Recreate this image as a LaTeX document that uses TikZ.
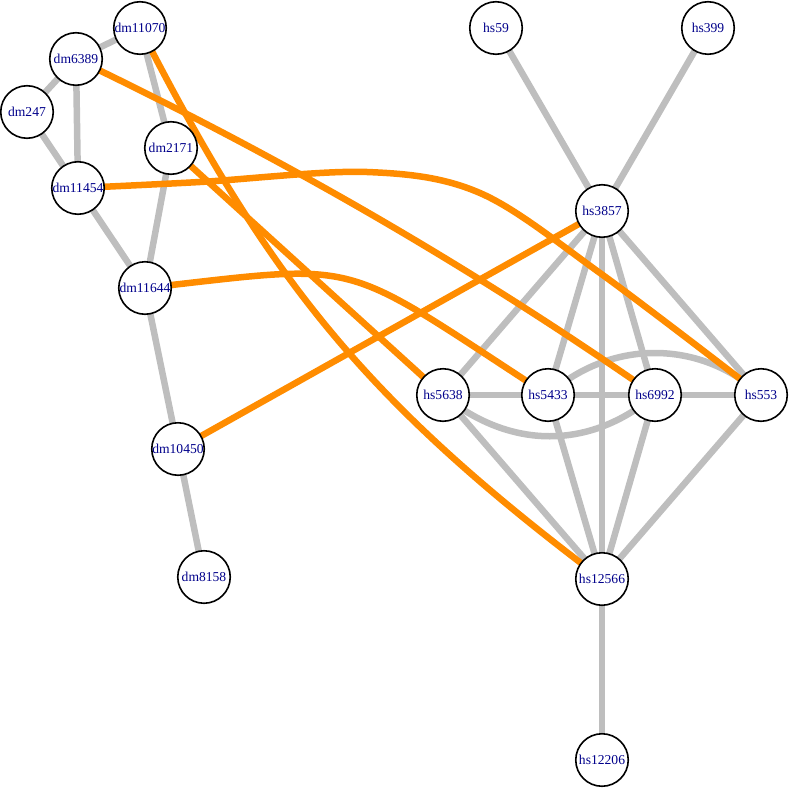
\documentclass[tikz,border=0pt]{standalone}
\usepackage{fontspec}
\setmainfont{Liberation Serif}
\usetikzlibrary{backgrounds}
\definecolor{edgegray}{RGB}{190,190,190}
\definecolor{edgeorange}{RGB}{255,140,0}
\definecolor{labelblue}{RGB}{0,0,139}
\begin{document}
\begin{tikzpicture}[x=1pt,y=-1pt,
  vert/.style={circle, draw=black, line width=1.6pt, fill=white, minimum size=52.5pt, inner sep=0pt, text=labelblue, font=\fontsize{13.6}{15}\selectfont},
  grayedge/.style={draw=edgegray, line width=6.5pt},
  orangeedge/.style={draw=edgeorange, line width=6.5pt}]
\useasboundingbox (0,0) rectangle (789,789);
% dm cluster
\node[vert] (dm11070) at (140,28) {dm11070};
\node[vert] (dm6389) at (76,59) {dm6389};
\node[vert] (dm247) at (27,112) {dm247};
\node[vert] (dm2171) at (171,148) {dm2171};
\node[vert] (dm11454) at (78,188) {dm11454};
\node[vert] (dm11644) at (145,288) {dm11644};
\node[vert] (dm10450) at (178,449) {dm10450};
\node[vert] (dm8158) at (204,577) {dm8158};
% hs cluster
\node[vert] (hs59) at (496,28) {hs59};
\node[vert] (hs399) at (708,28) {hs399};
\node[vert] (hs3857) at (602,211) {hs3857};
\node[vert] (hs5638) at (443,395) {hs5638};
\node[vert] (hs5433) at (548,395) {hs5433};
\node[vert] (hs6992) at (655,395) {hs6992};
\node[vert] (hs553) at (761,395) {hs553};
\node[vert] (hs12566) at (602,579) {hs12566};
\node[vert] (hs12206) at (602,760) {hs12206};
\begin{pgfonlayer}{background}
% gray edges
\draw[grayedge] (dm11070.center) -- (dm6389.center);
\draw[grayedge] (dm11070.center) -- (dm2171.center);
\draw[grayedge] (dm6389.center) -- (dm247.center);
\draw[grayedge] (dm6389.center) -- (dm11454.center);
\draw[grayedge] (dm247.center) -- (dm11454.center);
\draw[grayedge] (dm11454.center) -- (dm11644.center);
\draw[grayedge] (dm2171.center) -- (dm11644.center);
\draw[grayedge] (dm11644.center) -- (dm10450.center);
\draw[grayedge] (dm10450.center) -- (dm8158.center);
\draw[grayedge] (hs59.center) -- (hs3857.center);
\draw[grayedge] (hs399.center) -- (hs3857.center);
\draw[grayedge] (hs3857.center) -- (hs5638.center);
\draw[grayedge] (hs3857.center) -- (hs5433.center);
\draw[grayedge] (hs3857.center) -- (hs6992.center);
\draw[grayedge] (hs3857.center) -- (hs553.center);
\draw[grayedge] (hs3857.center) -- (hs12566.center);
\draw[grayedge] (hs5638.center) -- (hs5433.center);
\draw[grayedge] (hs5433.center) -- (hs6992.center);
\draw[grayedge] (hs6992.center) -- (hs553.center);
\draw[grayedge] (hs5638.center) .. controls (510,450) and (590,450) .. (hs6992.center);
\draw[grayedge] (hs5433.center) .. controls (610,339) and (700,339) .. (hs553.center);
\draw[grayedge] (hs12566.center) -- (hs5638.center);
\draw[grayedge] (hs12566.center) -- (hs5433.center);
\draw[grayedge] (hs12566.center) -- (hs6992.center);
\draw[grayedge] (hs12566.center) -- (hs553.center);
\draw[grayedge] (hs12566.center) -- (hs12206.center);
% orange edges
\draw[orangeedge] (dm6389.center) .. controls (270,152) and (460,259) .. (hs6992.center);
\draw[orangeedge] (dm11070.center) .. controls (269,280) and (364,400) .. (hs12566.center);
\draw[orangeedge] (dm2171.center) -- (hs5638.center);
\draw[orangeedge] (dm11644.center) .. controls (369,263) and (334,256) .. (hs5433.center);
\draw[orangeedge] plot[smooth, tension=0.55] coordinates {(dm11454.center) (200,182) (367,172) (480,193) (600,273) (hs553.center)};
\draw[orangeedge] (dm10450.center) -- (hs3857.center);
\end{pgfonlayer}
\end{tikzpicture}
\end{document}
